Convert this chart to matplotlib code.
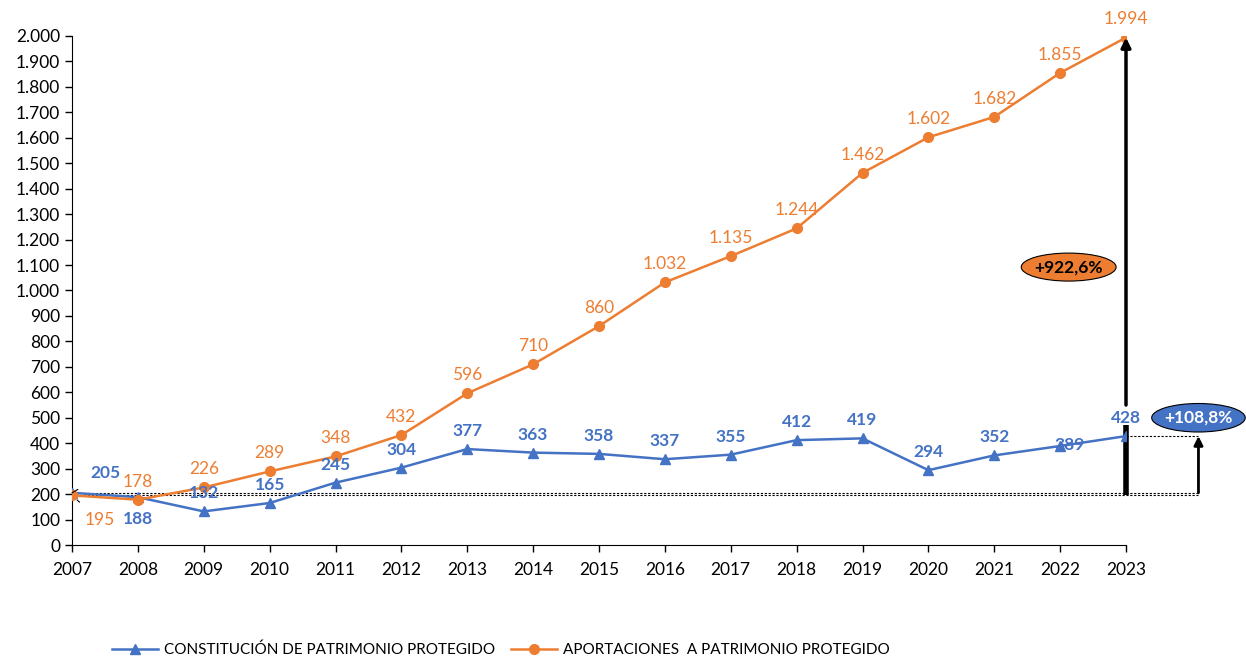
import matplotlib.pyplot as plt
from matplotlib.patches import Ellipse
from matplotlib.ticker import FuncFormatter

plt.rcParams['font.family'] = ['Lato', 'DejaVu Sans']

years = list(range(2007, 2024))
constitucion = [205, 188, 132, 165, 245, 304, 377, 363, 358, 337, 355, 412, 419, 294, 352, 389, 428]
aportaciones = [195, 178, 226, 289, 348, 432, 596, 710, 860, 1032, 1135, 1244, 1462, 1602, 1682, 1855, 1994]
pct_const = "+108,8%"
pct_aport = "+922,6%"

blue = "#4472C4"
orange = "#ED7D31"

fig = plt.figure(figsize=(12.46, 6.6), dpi=100)
ax = fig.add_axes([72 / 1246, 115 / 660, (1126 - 72) / 1246, (545 - 36) / 660])

ax.plot(years, constitucion, color=blue, lw=1.8, marker="^", ms=7,
        label="CONSTITUCIÓN DE PATRIMONIO PROTEGIDO", zorder=3)
ax.plot(years, aportaciones, color=orange, lw=1.8, marker="o", ms=7,
        label="APORTACIONES  A PATRIMONIO PROTEGIDO", zorder=3)

ax.set_xlim(2007, 2023)
ax.set_ylim(0, 2000)
ax.set_xticks(years)
ax.set_yticks(range(0, 2001, 100))
ax.yaxis.set_major_formatter(FuncFormatter(lambda v, p: f"{int(v):,}".replace(",", ".")))
ax.tick_params(labelsize=12.5, direction="out", length=5, width=1)
ax.tick_params(axis="x", pad=7)
for s in ["top", "right"]:
    ax.spines[s].set_visible(False)
for s in ["left", "bottom"]:
    ax.spines[s].set_color("black")

# data labels
for i, (x, v) in enumerate(zip(years, aportaciones)):
    if i == 0:
        ax.annotate(str(v), (x, v), xytext=(20, -18), textcoords="offset points",
                    color=orange, fontsize=12.5, ha="center", va="center",
                    arrowprops=dict(arrowstyle="-", color="black", lw=0.8, shrinkA=8, shrinkB=5))
        continue
    ax.annotate(f"{v:,}".replace(",", "."), (x, v), xytext=(0, 13), textcoords="offset points",
                color=orange, fontsize=12.5, ha="center", va="center")

for i, (x, v) in enumerate(zip(years, constitucion)):
    kw = dict(color=blue, fontsize=12.5, fontweight="bold", ha="center", va="center",
              textcoords="offset points")
    if i == 0:
        ax.annotate(str(v), (x, v), xytext=(24, 14),
                    arrowprops=dict(arrowstyle="-", color="black", lw=0.8, shrinkA=8, shrinkB=5), **kw)
    elif i == 1:
        ax.annotate(str(v), (x, v), xytext=(0, -16), **kw)
    elif i == 15:
        ax.annotate(str(v), (x, v), xytext=(7, 1), **kw)
    else:
        ax.annotate(str(v), (x, v), xytext=(0, 13), **kw)

# reference dotted lines
x_small = 2024.1
for yv in (aportaciones[0], constitucion[0]):
    ax.plot([2007, x_small], [yv, yv], color="black", lw=0.8, ls=(0, (2, 1.5)), clip_on=False, zorder=1)
ax.plot([2023, x_small], [constitucion[-1], constitucion[-1]], color="black", lw=0.8,
        ls=(0, (2, 1.5)), clip_on=False, zorder=1)

# big arrow for aportaciones, broken around the 2023 label
ax.plot([2023, 2023], [aportaciones[0], constitucion[-1] + 43], color="black", lw=4,
        solid_capstyle="butt", clip_on=False, zorder=2)
ax.annotate("", xy=(2023, aportaciones[-1]), xytext=(2023, constitucion[-1] + 122),
            arrowprops=dict(arrowstyle="-|>", color="black", lw=2.5, mutation_scale=14, shrinkA=0, shrinkB=0),
            annotation_clip=False)
# small arrow for constitucion
ax.annotate("", xy=(x_small, constitucion[-1]), xytext=(x_small, constitucion[0]),
            arrowprops=dict(arrowstyle="-|>", color="black", lw=2, mutation_scale=13, shrinkA=0, shrinkB=0),
            annotation_clip=False)

# ellipses with percentages
e1 = Ellipse((2022.13, 1092), 1.44, 110, facecolor=orange, edgecolor="black", lw=0.8, clip_on=False, zorder=4)
ax.add_patch(e1)
ax.text(2022.13, 1092, pct_aport, ha="center", va="center", fontsize=12.5, fontweight="bold",
        color="black", zorder=5)
e2 = Ellipse((2024.1, 500), 1.42, 112, facecolor=blue, edgecolor="black", lw=0.8, clip_on=False, zorder=4)
ax.add_patch(e2)
ax.text(2024.1, 500, pct_const, ha="center", va="center", fontsize=12.5, fontweight="bold",
        color="white", zorder=5)

fig.legend(*ax.get_legend_handles_labels(), loc="center", bbox_to_anchor=(0.402, 1 - 650 / 660),
           ncol=2, frameon=False, fontsize=11, handlelength=3, columnspacing=1.0, handletextpad=0.4)

fig.savefig("out.png", dpi=100)
